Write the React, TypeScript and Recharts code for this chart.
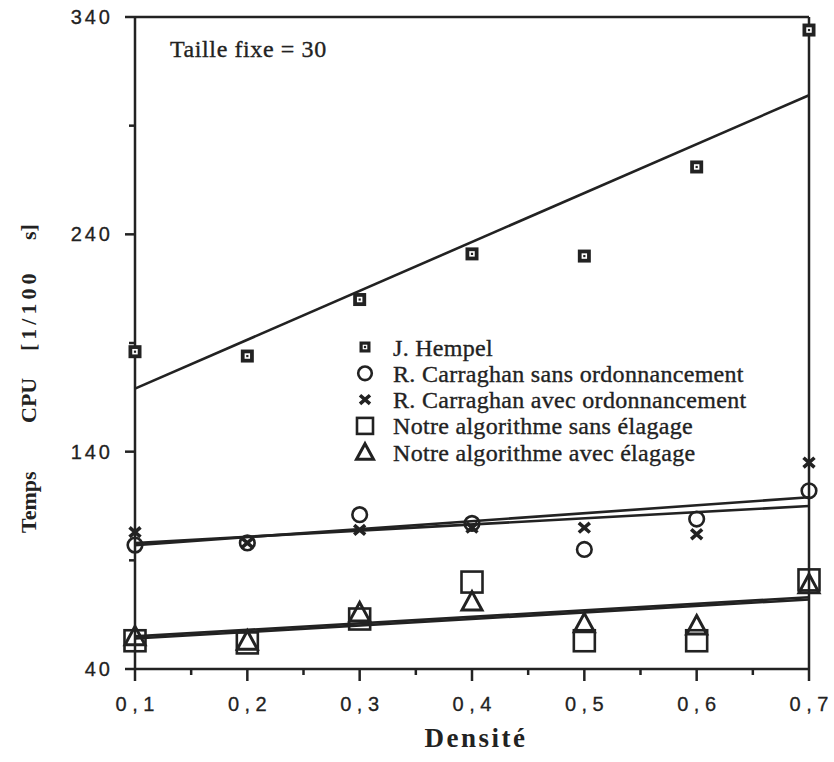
import React from 'react';
import { ComposedChart, Scatter, XAxis, YAxis, ReferenceLine, Legend } from 'recharts';

// Densité (abscisse)
const densite = [0.1, 0.2, 0.3, 0.4, 0.5, 0.6, 0.7];

// Temps CPU [1/100 s]
const hempel = [186, 184, 210, 231, 230, 271, 334];
const carraghanSans = [97, 98, 111, 107, 95, 109, 122];
const carraghanAvec = [103, 98, 104, 105, 105, 102, 135];
const notreSans = [53, 52, 63, 80, 53, 53, 81];
const notreAvec = [55, 53, 66, 71, 61, 60, 79];

// droites d'ajustement : valeurs lues aux extrémités 0,1 et 0,7
const trendX = [0.1, 0.7];
const hempelTrend = [169, 304];
const carraghanSansTrend = [98, 115];
const carraghanAvecTrend = [97, 119];
const notreSansTrend = [54, 72];
const notreAvecTrend = [55, 73];

// graduations
const xTicks = [0.1, 0.15, 0.2, 0.25, 0.3, 0.35, 0.4, 0.45, 0.5, 0.55, 0.6, 0.65, 0.7];
const xLabels = ['0,1', '0,2', '0,3', '0,4', '0,5', '0,6', '0,7'];
const yTicks = [40, 90, 140, 190, 240, 290, 340];
const yMajor = [40, 140, 240, 340];
const yLabels = ['40', '140', '240', '340'];

const INK = '#222';
const SERIF = '"Liberation Serif", "Times New Roman", serif';
const SANS = '"Liberation Sans", Arial, sans-serif';

const toPoints = (xs: number[], ys: number[]) => xs.map((x, i) => ({ x, y: ys[i] }));

type MarkProps = { cx?: number; cy?: number; s?: number };

const HempelMark = ({ cx = 0, cy = 0, s = 13 }: MarkProps) => (
  <g>
    <rect x={cx - s / 2} y={cy - s / 2} width={s} height={s} fill={INK} />
    <rect x={cx - s * 0.21} y={cy - s * 0.21} width={s * 0.42} height={s * 0.42} fill="#fff" />
    <rect x={cx - 1.1} y={cy - 1.1} width={2.2} height={2.2} fill={INK} />
  </g>
);

const CircleMark = ({ cx = 0, cy = 0, s = 17 }: MarkProps) => (
  <circle cx={cx} cy={cy} r={s / 2 - 1.2} fill="none" stroke={INK} strokeWidth={2.6} />
);

const CrossMark = ({ cx = 0, cy = 0, s = 11 }: MarkProps) => {
  const w = s / 2;
  const h = s / 2.3;
  return (
    <path
      d={`M${cx - w},${cy - h}L${cx + w},${cy + h}M${cx + w},${cy - h}L${cx - w},${cy + h}`}
      stroke={INK}
      strokeWidth={3.6}
      fill="none"
    />
  );
};

const SquareMark = ({ cx = 0, cy = 0, s = 21 }: MarkProps) => (
  <rect x={cx - s / 2} y={cy - s / 2} width={s} height={s} fill="none" stroke={INK} strokeWidth={2.6} />
);

const TriangleMark = ({ cx = 0, cy = 0, s = 20 }: MarkProps) => (
  <path
    d={`M${cx},${cy - s * 0.5}L${cx + s * 0.5},${cy + s * 0.42}L${cx - s * 0.5},${cy + s * 0.42}Z`}
    fill="none"
    stroke={INK}
    strokeWidth={3}
  />
);

const legendRows = [
  { name: 'J. Hempel', Mark: HempelMark, s: 11 },
  { name: 'R. Carraghan sans ordonnancement', Mark: CircleMark, s: 16 },
  { name: 'R. Carraghan avec ordonnancement', Mark: CrossMark, s: 10 },
  { name: 'Notre algorithme sans élagage', Mark: SquareMark, s: 16 },
  { name: 'Notre algorithme avec élagage', Mark: TriangleMark, s: 17 },
];

const LegendBox = () => (
  <svg width={420} height={140} style={{ display: 'block' }}>
    {legendRows.map(({ name, Mark, s }, i) => {
      const cy = 15 + i * 26.3;
      return (
        <g key={name}>
          <Mark cx={20} cy={cy} s={s} />
          <text x={48} y={cy + 8.5} fontFamily={SERIF} fontSize={24} letterSpacing={0.3}
            fill={INK} stroke={INK} strokeWidth={0.35}>
            {name}
          </text>
        </g>
      );
    })}
  </svg>
);

const XTick = (props: any) => {
  const { x, y, payload } = props;
  const idx = densite.indexOf(payload.value);
  const major = idx >= 0;
  return (
    <g>
      <line x1={x} x2={x} y1={y} y2={y + (major ? 12 : 6)} stroke={INK} strokeWidth={2.5} />
      {major && (
        <text x={x + 2.7} y={y + 42} textAnchor="middle" fontFamily={SANS} fontSize={20} letterSpacing={5.5}
          fill={INK} stroke={INK} strokeWidth={0.3}>
          {xLabels[idx]}
        </text>
      )}
    </g>
  );
};

const YTick = (props: any) => {
  const { x, y, payload } = props;
  const idx = yMajor.indexOf(payload.value);
  const major = idx >= 0;
  return (
    <g>
      <line x1={x} x2={x - (major ? 10 : 6)} y1={y} y2={y} stroke={INK} strokeWidth={2.5} />
      {major && (
        <text x={x - 22} y={y + 7} textAnchor="end" fontFamily={SANS} fontSize={20} letterSpacing={3}
          fill={INK} stroke={INK} strokeWidth={0.3}>
          {yLabels[idx]}
        </text>
      )}
    </g>
  );
};

const trendLine = { stroke: INK, strokeWidth: 2.6 };
const noShape = () => <g />;

const trends = [hempelTrend, carraghanSansTrend, carraghanAvecTrend, notreSansTrend, notreAvecTrend];

export default function App() {
  return (
    <div style={{ position: 'absolute', left: 0, top: 0, width: 834, height: 762, background: '#fff' }}>
      <ComposedChart width={834} height={762} margin={{ top: 17, right: 25, bottom: 0, left: 75 }}>
        <XAxis
          type="number"
          dataKey="x"
          domain={[0.1, 0.7]}
          ticks={xTicks}
          interval={0}
          height={93}
          tickSize={0}
          tickMargin={0}
          tickLine={false}
          axisLine={{ stroke: INK, strokeWidth: 2.5 }}
          tick={<XTick />}
          label={() => (
            <text x={476} y={747} textAnchor="middle" fontFamily={SERIF} fontWeight="bold" fontSize={27}
              letterSpacing={2.5} fill={INK}>
              Densité
            </text>
          )}
        />
        <YAxis
          type="number"
          dataKey="y"
          domain={[40, 340]}
          ticks={yTicks}
          interval={0}
          width={60}
          tickSize={0}
          tickMargin={0}
          tickLine={false}
          axisLine={{ stroke: INK, strokeWidth: 2.5 }}
          tick={<YTick />}
          label={() => (
            <text transform="translate(36,533) rotate(-90)" fontFamily={SERIF} fontWeight="bold" fontSize={22} fill={INK}>
              <tspan x={0}>Temps</tspan>
              <tspan x={110}>CPU</tspan>
              <tspan x={182} letterSpacing={4}>[1/100</tspan>
              <tspan x={293}>s]</tspan>
            </text>
          )}
        />
        <ReferenceLine
          y={340}
          stroke={INK}
          strokeWidth={2.5}
          label={() => (
            <text x={170} y={57} fontFamily={SERIF} fontSize={24} letterSpacing={0.6}
              fill={INK} stroke={INK} strokeWidth={0.35}>
              Taille fixe = 30
            </text>
          )}
        />
        <ReferenceLine x={0.7} stroke={INK} strokeWidth={2.5} />

        {trends.map((t, i) => (
          <Scatter
            key={`trend-${i}`}
            data={toPoints(trendX, t)}
            line={trendLine}
            shape={noShape}
            fill={INK}
            legendType="none"
            isAnimationActive={false}
          />
        ))}

        <Scatter name="J. Hempel" data={toPoints(densite, hempel)} fill={INK} isAnimationActive={false}
          shape={(p: any) => <HempelMark cx={p.cx} cy={p.cy} />} />
        <Scatter name="R. Carraghan sans ordonnancement" data={toPoints(densite, carraghanSans)} fill={INK} isAnimationActive={false}
          shape={(p: any) => <CircleMark cx={p.cx} cy={p.cy} />} />
        <Scatter name="R. Carraghan avec ordonnancement" data={toPoints(densite, carraghanAvec)} fill={INK} isAnimationActive={false}
          shape={(p: any) => <CrossMark cx={p.cx} cy={p.cy} />} />
        <Scatter name="Notre algorithme sans élagage" data={toPoints(densite, notreSans)} fill={INK} isAnimationActive={false}
          shape={(p: any) => <SquareMark cx={p.cx} cy={p.cy} />} />
        <Scatter name="Notre algorithme avec élagage" data={toPoints(densite, notreAvec)} fill={INK} isAnimationActive={false}
          shape={(p: any) => <TriangleMark cx={p.cx} cy={p.cy} />} />

        <Legend
          layout="vertical"
          align="center"
          verticalAlign="middle"
          wrapperStyle={{ left: 345, top: 332, width: 420, height: 140 }}
          content={() => <LegendBox />}
        />
      </ComposedChart>
    </div>
  );
}
